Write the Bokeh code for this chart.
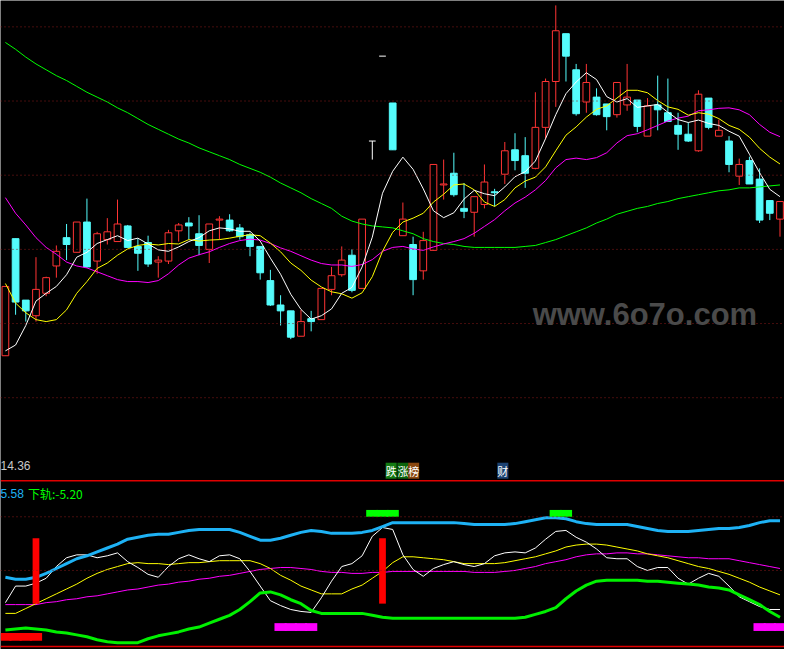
from bokeh.plotting import figure
from bokeh.models import Range1d, Span, Label, ColumnDataSource
from bokeh.embed import file_html
from bokeh.resources import INLINE

# ---------------- data ----------------
open_ = [14.72, 17.12, 15.86, 15.54, 16.00, 16.56, 17.14, 16.84, 17.46, 16.66,
         17.10, 17.06, 17.38, 16.96, 17.04, 16.64, 16.66, 17.28, 17.44, 17.22,
         16.90, 17.50, 17.50, 17.34, 17.20, 16.96, 16.26, 15.76, 15.64, 15.12,
         15.48, 15.46, 16.08, 16.38, 16.78, 16.10, 19.12, 20.86, 19.90, 17.18,
         17.00, 16.46, 16.88, 18.22, 18.46, 17.74, 17.66, 17.82, 18.08, 18.44,
         18.94, 18.82, 18.56, 19.40, 20.34, 21.32, 20.58, 19.92, 20.02, 19.88,
         19.66, 19.86, 19.96, 19.22, 19.86, 19.70, 19.44, 19.26, 18.92, 20.00,
         19.22, 19.12, 18.40, 18.72, 18.34, 17.90, 17.52]
close = [16.14, 15.82, 15.64, 16.08, 16.32, 16.86, 17.00, 17.46, 16.54, 17.22,
         17.26, 17.42, 16.94, 16.82, 16.60, 16.68, 17.24, 17.40, 17.38, 16.98,
         17.42, 17.52, 17.28, 17.16, 16.96, 16.42, 15.76, 15.64, 15.10, 15.42,
         15.42, 16.10, 16.36, 16.68, 16.06, 17.52, 19.12, 20.86, 18.94, 17.52,
         16.28, 17.08, 18.64, 18.24, 18.02, 17.68, 17.98, 18.28, 18.06, 18.92,
         18.72, 18.46, 19.40, 20.34, 21.38, 20.86, 19.68, 20.32, 19.66, 19.62,
         20.32, 20.02, 19.42, 19.84, 19.76, 19.52, 19.26, 19.12, 20.08, 19.40,
         19.34, 18.64, 18.64, 18.24, 17.50, 17.64, 17.88]
high = [16.14, 17.12, 15.86, 16.74, 16.34, 16.98, 17.42, 17.46, 17.94, 17.26,
        17.54, 17.92, 17.40, 17.12, 17.18, 16.76, 17.30, 17.44, 17.56, 17.60,
        17.42, 17.58, 17.62, 17.42, 17.24, 16.96, 16.48, 15.96, 15.64, 15.66,
        15.64, 16.10, 16.54, 16.96, 16.90, 17.52, 19.12, 20.86, 19.90, 17.86,
        17.16, 17.26, 18.64, 18.74, 18.88, 18.26, 17.98, 18.64, 18.14, 19.10,
        19.28, 19.20, 20.12, 20.40, 21.90, 21.32, 20.70, 20.70, 20.20, 19.88,
        20.32, 20.70, 19.96, 20.00, 20.46, 20.40, 19.70, 19.50, 20.16, 20.00,
        19.56, 19.22, 18.76, 18.80, 18.56, 17.90, 17.88]
low = [14.72, 15.56, 15.42, 15.42, 15.94, 16.32, 16.68, 16.84, 16.52, 16.40,
       17.00, 17.06, 16.94, 16.46, 16.54, 16.32, 16.60, 17.06, 17.10, 16.78,
       16.62, 17.10, 17.26, 17.10, 16.76, 16.28, 15.74, 15.34, 15.06, 15.12,
       15.22, 15.46, 15.96, 16.34, 16.02, 16.10, 18.74, 20.86, 18.94, 17.18,
       15.96, 16.28, 16.88, 17.92, 17.98, 17.54, 17.16, 17.74, 17.78, 18.24,
       18.52, 18.16, 18.54, 19.16, 19.82, 20.34, 19.64, 19.70, 19.64, 19.34,
       19.60, 19.74, 19.30, 19.22, 19.34, 19.52, 18.94, 19.10, 18.90, 19.36,
       19.22, 18.48, 18.22, 18.24, 17.44, 17.50, 17.16]

ma5 = [14.82, 14.94, 15.34, 15.84, 16.00, 16.14, 16.38, 16.74, 16.84, 17.02,
       17.10, 17.18, 17.08, 17.13, 17.01, 16.89, 16.86, 16.95, 17.06, 17.14,
       17.28, 17.34, 17.32, 17.27, 17.27, 17.07, 16.72, 16.39, 15.98, 15.67,
       15.47, 15.54, 15.68, 16.00, 16.12, 16.54, 17.15, 18.05, 18.50, 18.79,
       18.54, 18.14, 17.69, 17.55, 17.65, 17.93, 18.11, 18.04, 18.00, 18.18,
       18.39, 18.49, 18.71, 19.17, 19.66, 20.09, 20.33, 20.52, 20.38, 20.03,
       19.92, 19.99, 19.81, 19.84, 19.87, 19.71, 19.56, 19.50, 19.55, 19.48,
       19.44, 19.32, 19.22, 18.85, 18.47, 18.13, 17.98]
ma10 = [16.20, 15.80, 15.60, 15.46, 15.42, 15.46, 15.66, 16.00, 16.24, 16.51,
        16.62, 16.78, 16.91, 16.98, 17.01, 16.99, 17.02, 17.01, 17.10, 17.07,
        17.09, 17.10, 17.13, 17.17, 17.20, 17.18, 17.03, 16.85, 16.62, 16.47,
        16.27, 16.13, 16.03, 15.99, 15.90, 16.01, 16.34, 16.86, 17.25, 17.46,
        17.54, 17.64, 17.87, 18.03, 18.22, 18.24, 18.12, 17.87, 17.78, 17.92,
        18.16, 18.30, 18.38, 18.59, 18.92, 19.24, 19.41, 19.61, 19.77, 19.84,
        20.00, 20.16, 20.16, 20.11, 19.95, 19.82, 19.77, 19.65, 19.70, 19.67,
        19.58, 19.44, 19.36, 19.20, 18.97, 18.79, 18.65]
ma20 = [17.96, 17.64, 17.40, 17.14, 16.94, 16.80, 16.64, 16.56, 16.52, 16.44,
        16.36, 16.28, 16.24, 16.24, 16.22, 16.26, 16.40, 16.58, 16.72, 16.79,
        16.85, 16.94, 17.02, 17.08, 17.11, 17.09, 17.02, 16.93, 16.86, 16.77,
        16.68, 16.61, 16.58, 16.58, 16.55, 16.59, 16.69, 16.86, 16.94, 16.96,
        16.91, 16.88, 16.95, 17.01, 17.06, 17.12, 17.23, 17.37, 17.51, 17.69,
        17.85, 17.97, 18.12, 18.31, 18.57, 18.74, 18.77, 18.74, 18.78, 18.88,
        19.08, 19.23, 19.27, 19.35, 19.44, 19.53, 19.59, 19.63, 19.74, 19.76,
        19.79, 19.80, 19.76, 19.66, 19.46, 19.30, 19.21]
ma_long = [21.14, 21.00, 20.84, 20.70, 20.58, 20.46, 20.36, 20.24, 20.12, 20.02,
           19.92, 19.80, 19.70, 19.58, 19.46, 19.36, 19.26, 19.16, 19.08, 18.98,
           18.90, 18.82, 18.74, 18.64, 18.56, 18.48, 18.38, 18.26, 18.16, 18.06,
           17.94, 17.84, 17.74, 17.58, 17.48, 17.42, 17.38, 17.36, 17.34, 17.28,
           17.22, 17.12, 17.06, 17.02, 17.00, 16.96, 16.94, 16.94, 16.94, 16.94,
           16.94, 16.96, 16.98, 17.04, 17.10, 17.18, 17.26, 17.34, 17.44, 17.52,
           17.62, 17.68, 17.74, 17.78, 17.84, 17.88, 17.94, 17.98, 18.02, 18.06,
           18.10, 18.12, 18.16, 18.16, 18.18, 18.20, 18.22]

# lower indicator panel
band_upper = [4.0, 3.6, 3.6, 4.0, 4.8, 5.8, 6.8, 7.8, 8.4, 9.2,
              10.0, 10.8, 11.8, 12.2, 12.6, 12.8, 12.8, 13.2, 13.6, 13.8,
              13.8, 13.8, 13.8, 13.2, 12.4, 11.6, 11.6, 12.0, 12.6, 13.2,
              13.6, 13.4, 13.0, 13.0, 13.0, 13.2, 13.6, 14.4, 15.2, 15.2,
              15.2, 15.2, 15.2, 15.2, 15.2, 15.0, 14.8, 14.8, 14.8, 14.8,
              15.0, 15.4, 15.8, 16.2, 16.2, 16.0, 15.4, 15.0, 14.8, 14.8,
              14.8, 14.8, 14.4, 14.0, 13.6, 13.4, 13.4, 13.4, 13.6, 13.8,
              14.0, 14.0, 14.2, 14.6, 15.2, 15.6, 15.6]
band_lower = [-6.8, -6.6, -6.4, -6.6, -6.8, -7.2, -7.4, -7.8, -8.2, -8.8,
              -9.2, -9.4, -9.4, -9.4, -8.6, -8.0, -7.6, -7.2, -6.6, -6.2,
              -5.4, -4.6, -3.8, -2.6, -1.0, 0.8, 1.0, 0.4, -0.6, -1.4,
              -2.8, -3.4, -3.4, -3.4, -3.4, -3.4, -3.8, -4.2, -4.4, -4.4,
              -4.4, -4.4, -4.4, -4.4, -4.4, -4.4, -4.4, -4.4, -4.4, -4.4,
              -4.4, -4.2, -3.6, -3.0, -2.2, -0.4, 1.2, 2.4, 3.2, 3.4,
              3.4, 3.4, 3.4, 3.2, 3.2, 3.0, 2.8, 2.6, 2.4, 2.0,
              1.8, 1.4, 0.4, -0.6, -1.6, -3.0, -4.2]
ind_white = [-1.2, 2.2, 2.2, 2.8, 3.8, 6.2, 8.0, 8.6, 8.6, 8.0,
             8.4, 9.0, 7.2, 6.0, 4.6, 4.0, 6.2, 7.8, 8.6, 7.8,
             7.2, 8.4, 8.6, 7.8, 5.2, 2.2, -0.8, -1.8, -2.6, -3.0,
             -3.2, -0.2, 3.2, 6.2, 6.8, 8.4, 12.4, 14.2, 13.8, 8.6,
             5.6, 4.2, 5.8, 6.6, 7.2, 6.6, 6.2, 6.8, 8.4, 9.0,
             9.2, 9.0, 10.0, 11.8, 13.4, 13.6, 12.2, 11.2, 9.8, 8.0,
             7.8, 7.8, 6.2, 5.4, 6.0, 6.0, 3.8, 2.6, 3.8, 4.8,
             4.2, 2.2, 0.0, -1.0, -2.0, -2.6, -2.6]
ind_yellow = [-3.4, -3.4, -2.4, -1.4, -0.4, 0.6, 1.6, 2.6, 3.8, 4.8,
              5.6, 6.2, 6.8, 7.0, 6.8, 6.8, 6.6, 6.8, 7.0, 7.0,
              7.2, 7.4, 7.4, 7.4, 7.4, 6.8, 5.8, 4.4, 3.4, 2.2,
              1.4, 0.6, 0.6, 0.6, 1.6, 2.4, 3.8, 5.2, 7.0, 8.2,
              8.2, 8.0, 7.8, 7.6, 7.2, 6.8, 6.8, 6.8, 6.8, 7.0,
              7.4, 7.8, 8.2, 8.8, 9.4, 10.2, 10.6, 10.8, 10.8, 10.6,
              10.2, 9.8, 9.4, 8.8, 8.4, 8.0, 7.4, 6.8, 6.2, 5.8,
              5.2, 4.6, 3.8, 3.0, 2.0, 1.2, 0.4]
ind_magenta = [-1.6, -1.6, -1.6, -1.6, -1.2, -1.0, -0.6, -0.4, 0.0, 0.2,
               0.6, 1.0, 1.4, 1.6, 2.0, 2.4, 2.6, 3.0, 3.2, 3.6,
               3.8, 4.2, 4.4, 4.8, 5.2, 5.6, 5.8, 6.0, 6.0, 5.8,
               5.6, 5.2, 5.0, 5.0, 4.8, 4.8, 5.0, 5.0, 5.2, 5.2,
               5.2, 5.2, 5.2, 5.2, 5.2, 5.2, 5.0, 5.0, 5.0, 5.2,
               5.4, 5.8, 6.2, 6.8, 7.2, 7.6, 8.2, 8.6, 8.8, 8.8,
               9.0, 9.0, 8.8, 8.8, 8.6, 8.4, 8.2, 8.0, 8.0, 7.8,
               7.8, 7.8, 7.4, 7.0, 6.6, 6.2, 5.8]

# signal sticks of the indicator (bar index, levels in indicator units)
red_stick_idx = [3, 37]
red_stick_top, red_stick_bottom = 12.0, -1.4
green_mark_idx = [36, 37, 38, 54, 55]
green_mark_top, green_mark_bottom = 17.8, 16.4
magenta_mark_idx = [27, 28, 29, 30, 74, 75, 76]
magenta_mark_top, magenta_mark_bottom = -5.4, -7.0
red_mark_idx = [0, 1, 2, 3]
red_mark_top, red_mark_bottom = -7.4, -9.0

main_grid = [21.46, 19.94, 18.42, 16.90, 15.38, 13.86]
ind_grid = [16.4, 5.4]

# ---------------- layout helpers (reference pixel -> data units) ----------------
W, H = 784, 649
def ix(px):
    return (px - 5) / 10.4
def py(px):
    return 22 - px / 50
def vy(px):
    return 0.2 * (611 - px)

UP = "#FF3434"
DOWN = "#54FCFC"

p = figure(width=W, height=H, output_backend="svg", toolbar_location=None,
           x_range=Range1d(ix(0), ix(800)), y_range=Range1d(py(665), py(0)),
           x_axis_location=None, y_axis_location=None, min_border=0,
           background_fill_color="black", border_fill_color="black",
           outline_line_color=None)
p.extra_y_ranges = {"ind": Range1d(vy(665), vy(0))}
p.grid.visible = False

# grids
for g in main_grid:
    p.add_layout(Span(location=g, dimension="width", line_color="#8B1A1A",
                      line_dash="1 3", line_width=1))
for g in ind_grid:
    p.add_layout(Span(location=g, dimension="width", line_color="#8B1A1A",
                      line_dash="1 3", line_width=1, y_range_name="ind"))
for lv in (vy(492), vy(662)):
    p.add_layout(Span(location=lv, dimension="width", line_color="#E00000",
                      line_width=1.5, y_range_name="ind"))

# candles
n = len(close)
idx = list(range(n))
kind = ["up" if c > o else ("down" if c < o else "flat") for o, c in zip(open_, close)]
wick_col = [UP if k == "up" else (DOWN if k == "down" else "white") for k in kind]
wicks = ColumnDataSource(dict(x=idx, h=high, l=low, c=wick_col))
p.segment(x0="x", y0="h", x1="x", y1="l", line_color="c", line_width=1, source=wicks)

bx, btop, bbot, bfill, bline = [], [], [], [], []
fx0, fx1, fy = [], [], []
for i in idx:
    if kind[i] == "flat":
        fx0.append(i - 0.33); fx1.append(i + 0.33); fy.append(open_[i])
        continue
    bx.append(i)
    btop.append(max(open_[i], close[i]))
    bbot.append(min(open_[i], close[i]))
    if kind[i] == "up":
        bfill.append("black"); bline.append(UP)
    else:
        bfill.append(DOWN); bline.append(DOWN)
bodies = ColumnDataSource(dict(x=bx, top=btop, bottom=bbot, fill=bfill, line=bline))
p.vbar(x="x", width=0.66, top="top", bottom="bottom", fill_color="fill",
       line_color="line", line_width=1, source=bodies)
p.segment(x0=fx0, y0=fy, x1=fx1, y1=fy, line_color="white", line_width=1)

# moving averages
p.line(idx, ma_long, line_color="#00FF00", line_width=1)
p.line(idx, ma20, line_color="#FF00FF", line_width=1)
p.line(idx, ma10, line_color="#FFFF00", line_width=1)
p.line(idx, ma5, line_color="white", line_width=1)

# indicator panel
p.line(idx, ind_magenta, line_color="#FF00FF", line_width=1, y_range_name="ind")
p.line(idx, ind_yellow, line_color="#FFFF00", line_width=1, y_range_name="ind")
p.line(idx, ind_white, line_color="white", line_width=1, y_range_name="ind")
p.line(idx, band_upper, line_color="#1EB2F5", line_width=3, y_range_name="ind")
p.line(idx, band_lower, line_color="#00F000", line_width=3, y_range_name="ind")

p.vbar(x=red_stick_idx, width=0.66, top=red_stick_top, bottom=red_stick_bottom,
       fill_color="#FF0000", line_color=None, y_range_name="ind")
p.vbar(x=green_mark_idx, width=1.2, top=green_mark_top, bottom=green_mark_bottom,
       fill_color="#00FF00", line_color=None, y_range_name="ind")
p.vbar(x=magenta_mark_idx, width=1.2, top=magenta_mark_top, bottom=magenta_mark_bottom,
       fill_color="#FF00FF", line_color=None, y_range_name="ind")
p.vbar(x=red_mark_idx, width=1.2, top=red_mark_top, bottom=red_mark_bottom,
       fill_color="#FF0000", line_color=None, y_range_name="ind")

# texts
p.add_layout(Label(x=ix(543), y=py(322), text="www.6o7o.com", text_color="#4A4A4A",
                   text_font="Liberation Sans", text_font_style="bold",
                   text_font_size="31px", text_baseline="alphabetic"))
p.add_layout(Label(x=ix(0), y=py(476), text="14.36", text_color="#C8C8C8",
                   text_font="Liberation Sans", text_font_size="12px",
                   text_baseline="alphabetic"))
p.add_layout(Label(x=ix(0), y=vy(505), text="5.58", text_color="#1EB2F5",
                   text_font="Liberation Sans", text_font_size="12px",
                   text_baseline="alphabetic", y_range_name="ind"))
p.add_layout(Label(x=ix(28), y=vy(505), text="下轨:-5.20", text_color="#00FF00",
                   text_font="Noto Sans CJK SC", text_font_size="12px",
                   text_baseline="alphabetic", y_range_name="ind"))
for ch, px_, bg in (("跌", 393, "#127A12"), ("涨", 405, "#0B640B"), ("榜", 416, "#8A4810"),
                    ("财", 507, "#1C4272")):
    p.add_layout(Label(x=ix(px_), y=py(490), text=ch, text_color="white",
                       text_font="Noto Sans CJK SC", text_font_size="11px",
                       text_baseline="bottom", background_fill_color=bg))

html = file_html(p, INLINE)
html = html.replace("<body>", '<body style="background-color:#000000;">', 1)
open("out.html", "w").write(html)
